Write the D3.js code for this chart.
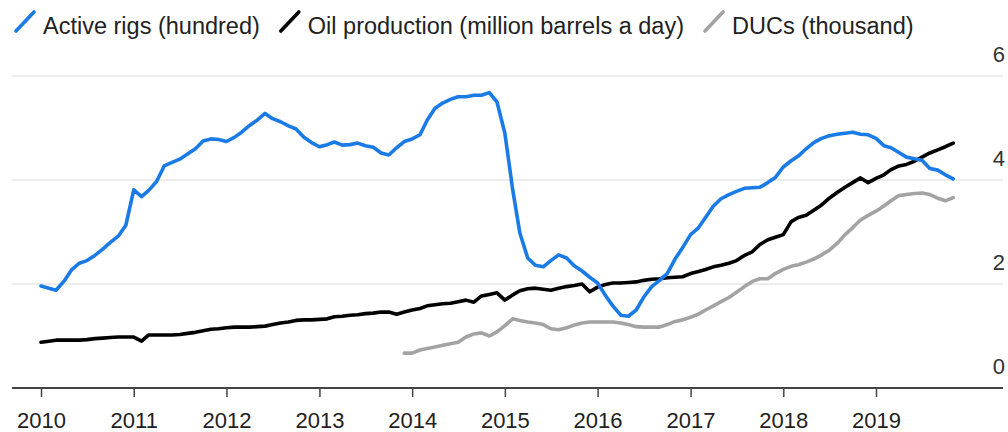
<!DOCTYPE html>
<html>
<head>
<meta charset="utf-8">
<script src="https://cdn.jsdelivr.net/npm/d3@7/dist/d3.min.js"></script>
<style>
  html, body { margin: 0; padding: 0; background: #fff; }
  svg { display: block; font-family: "Liberation Sans", Arial, Helvetica, sans-serif; }
</style>
</head>
<body>
<svg id="chart" width="1008" height="432"></svg>
<script>
// ---- Data (monthly, starting January 2010) ----
const startMonth = "2010-01";
const rigs = [
  1.96,1.92,1.88,2.05,2.27,2.40,2.45,2.55,2.67,2.80,2.92,3.13,
  3.81,3.68,3.80,3.97,4.27,4.34,4.40,4.50,4.60,4.75,4.79,4.78,
  4.74,4.82,4.92,5.05,5.15,5.28,5.18,5.12,5.04,4.98,4.82,4.72,
  4.64,4.68,4.73,4.67,4.68,4.71,4.66,4.63,4.52,4.48,4.62,4.74,
  4.79,4.87,5.15,5.38,5.48,5.55,5.60,5.60,5.63,5.63,5.68,5.50,
  4.90,3.81,2.98,2.50,2.36,2.33,2.45,2.56,2.50,2.35,2.25,2.13,
  2.02,1.78,1.58,1.40,1.38,1.50,1.75,1.95,2.07,2.20,2.48,2.70,
  2.95,3.08,3.28,3.50,3.64,3.72,3.78,3.84,3.85,3.86,3.95,4.05,
  4.25,4.37,4.46,4.60,4.72,4.80,4.85,4.88,4.90,4.92,4.88,4.87,
  4.80,4.66,4.62,4.53,4.44,4.41,4.38,4.22,4.19,4.10,4.02
];
const oil = [
  0.88,0.90,0.92,0.92,0.92,0.92,0.93,0.95,0.96,0.97,0.98,0.98,
  0.98,0.90,1.02,1.02,1.02,1.02,1.03,1.05,1.07,1.10,1.13,1.14,
  1.16,1.17,1.17,1.17,1.18,1.19,1.22,1.25,1.27,1.30,1.31,1.31,
  1.32,1.33,1.37,1.38,1.40,1.41,1.43,1.44,1.46,1.46,1.42,1.46,
  1.50,1.53,1.58,1.60,1.62,1.63,1.66,1.69,1.65,1.77,1.80,1.83,
  1.69,1.79,1.87,1.91,1.92,1.90,1.88,1.92,1.95,1.97,2.00,1.85,
  1.94,1.99,2.02,2.02,2.03,2.04,2.07,2.09,2.10,2.12,2.13,2.14,
  2.20,2.24,2.28,2.33,2.36,2.40,2.45,2.55,2.62,2.76,2.85,2.90,
  2.95,3.20,3.28,3.32,3.42,3.52,3.65,3.76,3.86,3.95,4.04,3.95,
  4.03,4.10,4.20,4.27,4.30,4.36,4.44,4.52,4.58,4.64,4.71
];
// DUCs start December 2013
const ducStartMonth = "2013-12";
const ducs = [
  0.67,0.67,0.73,0.76,0.79,0.82,0.85,0.88,0.98,1.04,1.06,1.00,1.08,
  1.20,1.33,1.30,1.27,1.25,1.22,1.14,1.12,1.16,1.21,1.25,1.27,
  1.27,1.27,1.27,1.25,1.22,1.18,1.17,1.17,1.17,1.22,1.28,1.31,
  1.36,1.42,1.50,1.58,1.66,1.74,1.84,1.95,2.05,2.10,2.10,2.20,
  2.28,2.34,2.37,2.42,2.48,2.56,2.65,2.78,2.95,3.08,3.23,3.32,
  3.40,3.50,3.60,3.70,3.72,3.74,3.75,3.72,3.65,3.60,3.66
];
const yearTicks = ["2010","2011","2012","2013","2014","2015","2016","2017","2018","2019"];
const yTicks = [0, 2, 4, 6];
const legendLabels = ["Active rigs (hundred)", "Oil production (million barrels a day)", "DUCs (thousand)"];
const colors = ["#1b7be6", "#000000", "#a3a3a3"];

// ---- Build series ----
const parseMonth = d3.timeParse("%Y-%m");
function toSeries(start, values) {
  const s = parseMonth(start);
  return values.map((v, i) => ({ date: d3.timeMonth.offset(s, i), value: v }));
}
const series = [
  toSeries(startMonth, rigs),
  toSeries(startMonth, oil),
  toSeries(ducStartMonth, ducs)
];

const svg = d3.select("#chart");
const x = d3.scaleTime()
  .domain([new Date(2010, 0, 1), new Date(2019, 0, 1)])
  .range([41, 876]);
const y = d3.scaleLinear().domain([0, 6]).range([388, 76]);
const gridLeft = 12, gridRight = 1003;

// Gridlines
svg.append("g").selectAll("line")
  .data(yTicks.filter(t => t !== 0))
  .join("line")
  .attr("x1", gridLeft).attr("x2", gridRight)
  .attr("y1", d => y(d)).attr("y2", d => y(d))
  .attr("stroke", "#e6e6e6").attr("stroke-width", 1.5);

// Right axis labels
svg.append("g").selectAll("text")
  .data(yTicks)
  .join("text")
  .attr("x", 1005)
  .attr("y", d => y(d) - 14)
  .attr("text-anchor", "end")
  .attr("font-size", 22)
  .attr("fill", "#333")
  .text(d => d);

// Bottom axis
const xAxis = d3.axisBottom(x)
  .tickValues(yearTicks.map(t => new Date(+t, 0, 1)))
  .tickFormat(d3.timeFormat("%Y"))
  .tickSize(9)
  .tickSizeOuter(0)
  .tickPadding(15);
const gx = svg.append("g").attr("transform", `translate(0,${y(0)})`).call(xAxis);
gx.select(".domain").remove();
gx.selectAll(".tick line").attr("stroke", "#444").attr("stroke-width", 1.5);
gx.selectAll(".tick text")
  .attr("font-size", 22)
  .attr("font-family", "'Liberation Sans', Arial, sans-serif")
  .attr("fill", "#222");
svg.append("line")
  .attr("x1", gridLeft).attr("x2", gridRight)
  .attr("y1", y(0)).attr("y2", y(0))
  .attr("stroke", "#444").attr("stroke-width", 2);

// Lines (gray, black, then blue on top)
const line = d3.line().x(d => x(d.date)).y(d => y(d.value));
const order = [2, 1, 0];
svg.append("g").selectAll("path")
  .data(order)
  .join("path")
  .attr("d", i => line(series[i]))
  .attr("fill", "none")
  .attr("stroke", i => colors[i])
  .attr("stroke-width", 3.6)
  .attr("stroke-linejoin", "round")
  .attr("stroke-linecap", "round");

// Legend
const legend = svg.append("g");
let cx = 15;
legendLabels.forEach((lab, i) => {
  legend.append("line")
    .attr("x1", cx + 1).attr("y1", 31)
    .attr("x2", cx + 19).attr("y2", 12)
    .attr("stroke", colors[i]).attr("stroke-width", 3.6)
    .attr("stroke-linecap", "round");
  const t = legend.append("text")
    .attr("x", cx + 28).attr("y", 34)
    .attr("font-size", 23.5)
    .attr("fill", "#222")
    .text(lab);
  const w = t.node().getComputedTextLength();
  cx = cx + 28 + w + 20;
});
</script>
</body>
</html>
